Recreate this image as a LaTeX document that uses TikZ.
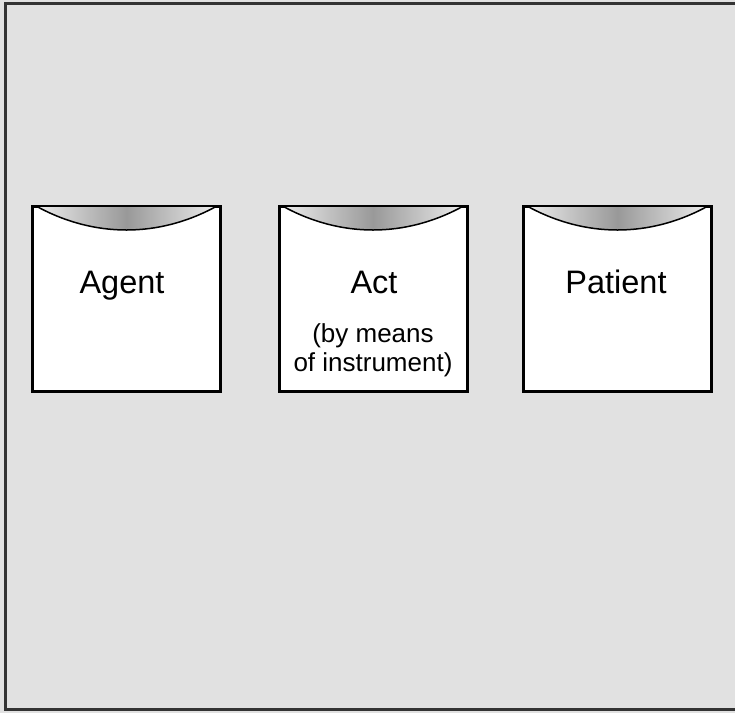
\documentclass[tikz,border=0pt]{standalone}
\usepackage{fontspec}
\setmainfont{Liberation Sans}
\definecolor{bggray}{HTML}{E1E1E1}
\definecolor{framegray}{HTML}{333333}
\tikzset{
  card/.style={draw=black, line width=2pt, fill=white, minimum width=187pt, minimum height=184pt, inner sep=0pt},
  title/.style={font=\fontsize{32.5}{36}\selectfont, anchor=base, inner sep=0pt},
  sub/.style={font=\fontsize{26}{29}\selectfont, align=center, anchor=base, inner sep=0pt},
  lid/.style={draw=black, line width=1.5pt, left color=gray!15, right color=gray!15, middle color=gray!80}
}
\begin{document}
\begin{tikzpicture}[x=1pt,y=-1pt]
\useasboundingbox (0,0) rectangle (735,713);
\fill[bggray] (0,0) rectangle (735,713);
\draw[framegray, line width=3pt] (5,3) rectangle (745,709);
% cards
\node[card] (agent) at (126.5,299) {};
\node[card] (act) at (373,299) {};
\node[card] (patient) at (617.5,299) {};
\foreach \n in {agent,act,patient}{
  \path[lid] ([xshift=4pt]\n.north west) .. controls ([xshift=62pt,yshift=-32pt]\n.north west) and ([xshift=-62pt,yshift=-32pt]\n.north east) .. ([xshift=-4pt]\n.north east) -- cycle;
  \draw[black, line width=2pt] (\n.north west) rectangle (\n.south east);
}
\node[title] (agentlbl) at (122,293) {Agent};
\node[title] (actlbl) at (374,293) {Act};
\node[sub] (actsub1) at (373,342) {(by means};
\node[sub] (actsub2) at (373,371) {of instrument)};
\node[title] (patientlbl) at (616,293) {Patient};
\end{tikzpicture}
\end{document}
